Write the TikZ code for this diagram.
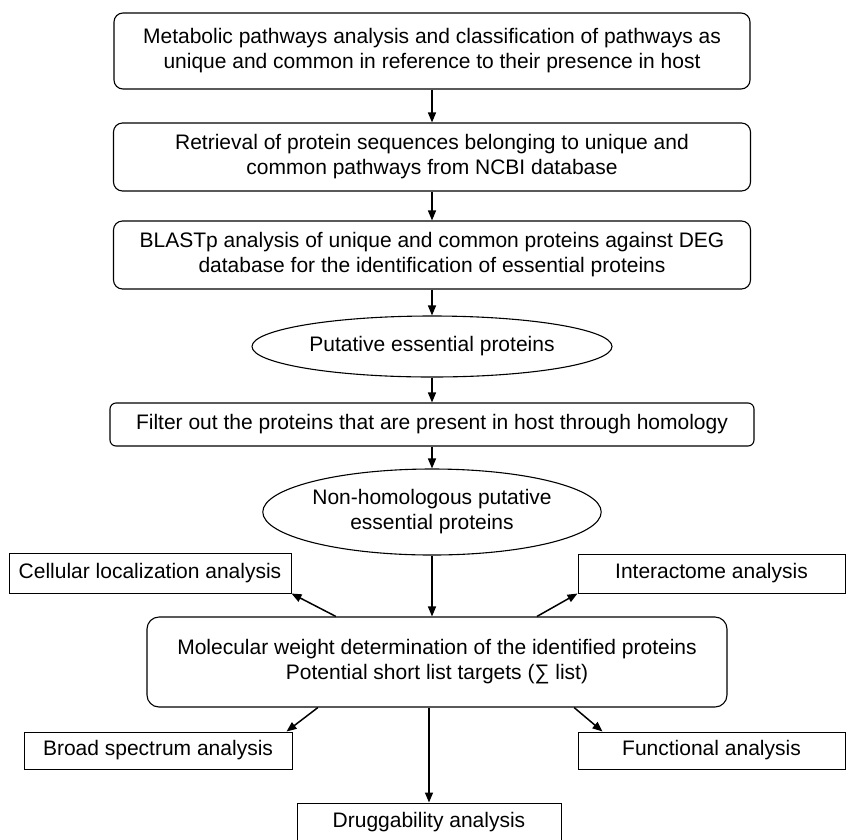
\documentclass[tikz,border=0pt]{standalone}
\usepackage{fontspec}
\setmainfont{Liberation Sans}
\usetikzlibrary{calc,shapes.geometric,arrows.meta}

\begin{document}
\begin{tikzpicture}[x=1pt, y=-1pt,
  >={Triangle[length=10pt,width=8pt]},
  txt/.style={font=\fontsize{21}{25}\selectfont, align=center, inner sep=0pt},
  stepbox/.style={txt, draw, line width=1.1pt, rounded corners=9pt},
  ovalbox/.style={txt, draw, line width=1.1pt, ellipse},
  sidebox/.style={txt, draw, line width=1pt, minimum width=267pt, minimum height=39pt},
  flow/.style={->, line width=1.5pt}]
  \useasboundingbox (0,0) rectangle (846,839);
  % ------- main column -------
  \node[stepbox, minimum width=636pt, minimum height=76pt] (meta) at (432,51)
    {Metabolic pathways analysis and classification of pathways as\\ unique and common in reference to their presence in host};
  \node[stepbox, minimum width=637pt, minimum height=68pt] (retr) at (432,157)
    {Retrieval of protein sequences belonging to unique and\\ common pathways from NCBI database};
  \node[stepbox, minimum width=637pt, minimum height=68pt] (blast) at (432,255)
    {BLASTp analysis of unique and common proteins against DEG\\ database for the identification of essential proteins};
  \node[ovalbox, minimum width=360pt, minimum height=61pt] (puta) at (432,346.5)
    {Putative essential proteins};
  \node[stepbox, rounded corners=6pt, minimum width=644pt, minimum height=43pt] (filt) at (432,424.5)
    {Filter out the proteins that are present in host through homology};
  \node[ovalbox, minimum width=324pt, minimum height=86pt] (nonh) at (432,512)
    {Non-homologous putative\\ essential proteins};
  \node[stepbox, rounded corners=12pt, minimum width=580pt, minimum height=90pt] (mol) at (437,662)
    {Molecular weight determination of the identified proteins\\ Potential short list targets (∑ list)};
  % ------- side analyses -------
  \node[sidebox, minimum width=282pt, minimum height=40pt] (cell) at (150,573) {Cellular localization analysis};
  \node[sidebox] (inter) at (711.5,573.5) {Interactome analysis};
  \node[sidebox, minimum width=268pt, minimum height=37pt] (broad) at (158,750.5) {Broad spectrum analysis};
  \node[sidebox, minimum height=37pt] (func) at (711.5,750.5) {Functional analysis};
  \node[sidebox, minimum width=264pt, minimum height=38pt] (drug) at (429,822) {Druggability analysis};
  % ------- connectors -------
  \draw[flow] (meta) -- (retr);
  \draw[flow] (retr) -- (blast);
  \draw[flow] (blast) -- (puta);
  \draw[flow] (puta) -- (filt);
  \draw[flow] (filt) -- (nonh);
  \draw[flow] (nonh.south) -- (nonh.south |- mol.north);
  \draw[flow] ($(mol.north west)!0.326!(mol.north east)$) -- (cell.south east);
  \draw[flow] ($(mol.north west)!0.672!(mol.north east)$) -- (inter.south west);
  \draw[flow] ($(mol.south west)!0.295!(mol.south east)$) -- ($(broad.north east)+(-6,0)$);
  \draw[flow] ($(mol.south west)!0.736!(mol.south east)$) -- ($(func.north west)+(25,0)$);
  \draw[flow] (mol.south -| drug.north) -- (drug.north);
\end{tikzpicture}
\end{document}
